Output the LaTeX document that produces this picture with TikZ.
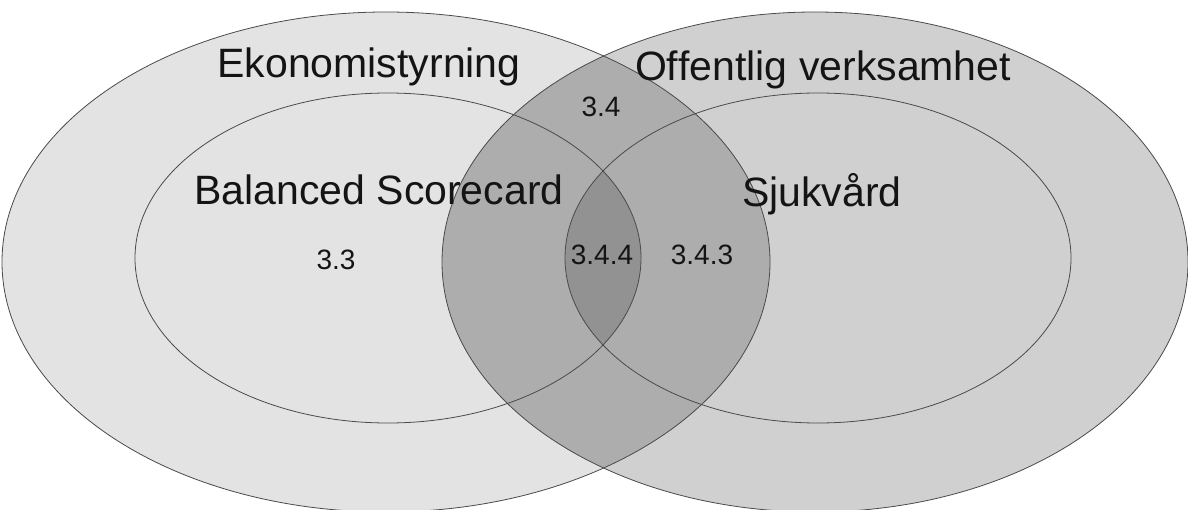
\documentclass[tikz,border=0pt]{standalone}
\usepackage{fontspec}
\setmainfont[Ligatures=NoCommon]{Liberation Sans}
\definecolor{leftfill}{HTML}{E3E3E3}
\definecolor{rightfill}{HTML}{D0D0D0}
\definecolor{bothfill}{HTML}{ADADAD}
\definecolor{corefill}{HTML}{929292}
\definecolor{rim}{HTML}{4A4A4A}
\definecolor{ink}{HTML}{141414}
\begin{document}
\begin{tikzpicture}[x=1pt,y=-1pt,
  rimline/.style={draw=rim,line width=0.8pt},
  biglabel/.style={font=\fontsize{41}{41}\selectfont,text=ink,inner sep=0pt,anchor=base},
  smalllabel/.style={font=\fontsize{28}{28}\selectfont,text=ink,inner sep=0pt,anchor=base}]
\useasboundingbox (0,0) rectangle (1188,510);
% outer ellipses: economics control and public sector
\def\leftbig{(386,262) ellipse [x radius=384,y radius=250]}
\def\rightbig{(815,262) ellipse [x radius=373,y radius=250]}
% inner ellipses: balanced scorecard and health care
\def\leftsmall{(388,258) ellipse [x radius=253,y radius=165]}
\def\rightsmall{(818,258) ellipse [x radius=253,y radius=165]}
\fill[leftfill] \leftbig;
\fill[rightfill] \rightbig;
\begin{scope}
  \clip \leftbig;
  \fill[bothfill] \rightbig;
\end{scope}
\begin{scope}
  \clip \leftsmall;
  \fill[corefill] \rightsmall;
\end{scope}
\draw[rimline] \leftbig;
\draw[rimline] \rightbig;
\draw[rimline] \leftsmall;
\draw[rimline] \rightsmall;
\node[biglabel] (eko) at (369,78) {Ekonomistyrning};
\node[biglabel] (off) at (823,81) {Of\kern0ptfentlig verksamhet};
\node[biglabel] (bsc) at (379,205) {Balanced Scorecard};
\node[biglabel] (sjv) at (822,207) {Sjukvård};
\node[smalllabel] (n34) at (601,117) {3.4};
\node[smalllabel] (n33) at (336,270) {3.3};
\node[smalllabel] (n344) at (602,265) {3.4.4};
\node[smalllabel] (n343) at (702,265) {3.4.3};
\end{tikzpicture}
\end{document}
